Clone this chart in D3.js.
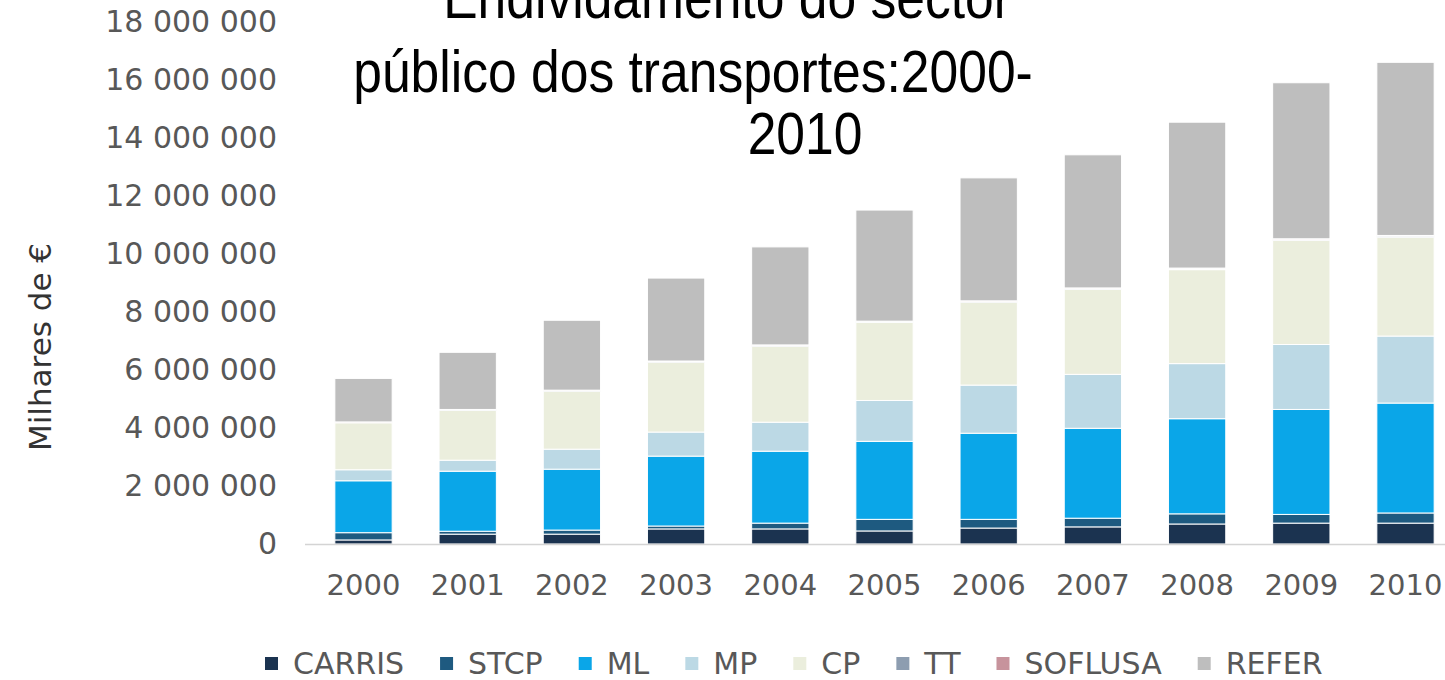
<!DOCTYPE html>
<html>
<head>
<meta charset="utf-8">
<script src="https://cdn.jsdelivr.net/npm/d3@7"></script>
<style>
  html, body { margin: 0; padding: 0; background: #ffffff; }
  svg { display: block; }
</style>
</head>
<body>
<div id="chart"></div>
<script>
// ---------- data (Milhares de €) ----------
const years   = ["2000","2001","2002","2003","2004","2005","2006","2007","2008","2009","2010"];
const series  = ["CARRIS","STCP","ML","MP","CP","TT","SOFLUSA","REFER"];
const CARRIS  = [140000, 340000, 340000, 520000, 520000, 450000, 550000, 590000, 690000, 720000, 720000];
const STCP    = [250000, 100000, 140000, 100000, 200000, 400000, 300000, 300000, 350000, 300000, 350000];
const ML      = [1790000, 2070000, 2100000, 2410000, 2480000, 2690000, 2970000, 3100000, 3280000, 3620000, 3790000];
const MP      = [380000, 380000, 690000, 830000, 1000000, 1410000, 1660000, 1860000, 1900000, 2240000, 2310000];
const CP      = [1620000, 1720000, 2000000, 2410000, 2620000, 2690000, 2860000, 2930000, 3240000, 3590000, 3410000];
const TT      = [20000, 20000, 25000, 25000, 30000, 30000, 30000, 35000, 35000, 35000, 40000];
const SOFLUSA = [10000, 10000, 10000, 15000, 15000, 15000, 15000, 15000, 20000, 20000, 20000];
const REFER   = [1500000, 1970000, 2410000, 2860000, 3380000, 3830000, 4240000, 4590000, 5030000, 5380000, 5970000];
const yTicks  = [0, 2000000, 4000000, 6000000, 8000000, 10000000, 12000000, 14000000, 16000000, 18000000];
const titleLines = ["Endividamento do sector", "público dos transportes:2000-", "2010"];
const yTitle  = "Milhares de €";

const seriesValues = {CARRIS, STCP, ML, MP, CP, TT, SOFLUSA, REFER};
const colors = {
  CARRIS: "#1b3350", STCP: "#1e5a80", ML: "#0aa6e8", MP: "#bcd9e5",
  CP: "#ebeedd", TT: "#8d9db0", SOFLUSA: "#c7939c", REFER: "#bebebe"
};

// ---------- layout ----------
const W = 1445, H = 680;
const svg = d3.select("#chart").append("svg").attr("width", W).attr("height", H);

const table = years.map((yr, i) => {
  const row = {year: yr};
  series.forEach(s => row[s] = seriesValues[s][i]);
  return row;
});

const x = d3.scaleBand().domain(years).range([311.4, 1457.6]).paddingInner(0.45).paddingOuter(0.225);
const y = d3.scaleLinear().domain([0, 18000000]).range([544, 22]);

const stack = d3.stack().keys(series)(table);

// bars
svg.append("g").selectAll("g").data(stack).join("g")
  .attr("fill", d => colors[d.key])
  .selectAll("rect").data(d => d).join("rect")
  .attr("x", d => x(d.data.year))
  .attr("width", x.bandwidth())
  .attr("y", d => y(d[1]))
  .attr("height", d => Math.max(0, y(d[0]) - y(d[1])))
  .attr("stroke", "#ffffff")
  .attr("stroke-width", 1);

// baseline
svg.append("line")
  .attr("x1", 305).attr("x2", 1445)
  .attr("y1", y(0) + 0.5).attr("y2", y(0) + 0.5)
  .attr("stroke", "#d4d4d4").attr("stroke-width", 1.5);

// y axis
const loc = d3.formatLocale({decimal: ",", thousands: " ", grouping: [3], currency: ["", "€"]});
const fmt = loc.format(",d");
const yAxis = svg.append("g").attr("transform", "translate(277,0)")
  .call(d3.axisLeft(y).tickValues(yTicks).tickFormat(fmt).tickSize(0).tickPadding(0));
yAxis.select(".domain").remove();
yAxis.selectAll("text")
  .attr("font-family", "DejaVu Sans").attr("font-size", 30).attr("fill", "#585858");

// x axis
const xAxis = svg.append("g").attr("transform", `translate(0,${y(0)})`)
  .call(d3.axisBottom(x).tickSize(0).tickPadding(30));
xAxis.select(".domain").remove();
xAxis.selectAll("text")
  .attr("font-family", "DejaVu Sans").attr("font-size", 29).attr("fill", "#585858");

// y title
svg.append("text")
  .attr("transform", "translate(51,347) rotate(-90)")
  .attr("text-anchor", "middle")
  .attr("font-family", "DejaVu Sans").attr("font-size", 31).attr("fill", "#333333")
  .text(yTitle);

// title (condensed horizontally, like a narrow face)
const titleX = [727, 693, 805];
const titleY = [18, 92, 154];
svg.append("g").selectAll("text").data(titleLines).join("text")
  .attr("transform", (d, i) => `translate(${titleX[i]},${titleY[i]}) scale(0.86,1)`)
  .attr("text-anchor", "middle")
  .attr("font-family", "'Liberation Sans', Arial, sans-serif")
  .attr("font-size", 60)
  .attr("fill", "#000000")
  .text(d => d);

// legend
const leg = svg.append("g");
let cx = 265;
series.forEach(s => {
  const g = leg.append("g").attr("transform", `translate(${cx},0)`);
  g.append("rect").attr("x", 0).attr("y", 657).attr("width", 13).attr("height", 13).attr("fill", colors[s]);
  const t = g.append("text").attr("x", 28).attr("y", 674)
    .attr("font-family", "DejaVu Sans").attr("font-size", 30).attr("fill", "#585858")
    .text(s);
  cx += 28 + t.node().getComputedTextLength() + 36;
});
</script>
</body>
</html>
